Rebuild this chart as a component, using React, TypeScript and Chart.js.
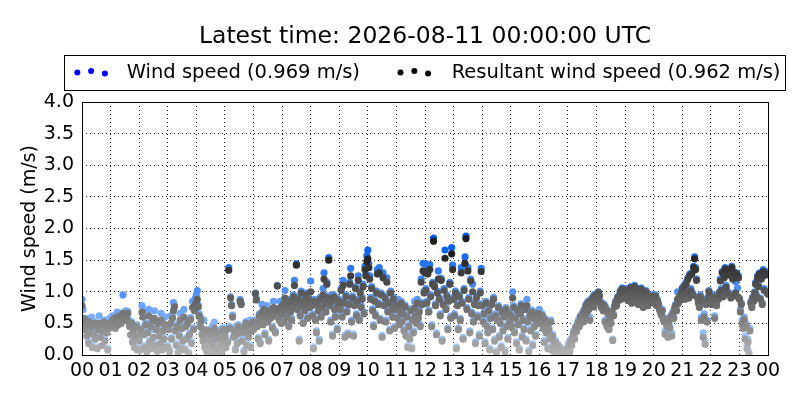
import React, { useEffect, useRef } from 'react';
import Chart, { ChartOptions, Plugin } from 'chart.js/auto';

const titleText = 'Latest time: 2026-08-11 00:00:00 UTC';
const latestWind = 0.969;
const latestResultant = 0.962;
const minutesPerSample = 2;
const hourTicks = [0, 1, 2, 3, 4, 5, 6, 7, 8, 9, 10, 11, 12, 13, 14, 15, 16, 17, 18, 19, 20, 21, 22, 23, 24];
const speedTicks = [0, 0.5, 1, 1.5, 2, 2.5, 3, 3.5, 4];

// one row per hour (00..23), 2-minute samples in m/s, last value is 24:00
const windSpeed = [
  0.88, 0.72, 0.53, 0.44, 0.58, 0.45, 0.51, 0.22, 0.55, 0.38, 0.60, 0.15, 0.35, 0.53, 0.40, 0.49, 0.13, 0.43, 0.62, 0.31, 0.48, 0.30, 0.41, 0.55, 0.25, 0.51, 0.50, 0.11, 0.45, 0.58,
  0.53, 0.48, 0.62, 0.51, 0.61, 0.45, 0.55, 0.68, 0.51, 0.59, 0.65, 0.53, 0.63, 0.95, 0.68, 0.58, 0.70, 0.61, 0.69, 0.55, 0.48, 0.45, 0.53, 0.23, 0.41, 0.28, 0.31, 0.48, 0.11, 0.33,
  0.25, 0.11, 0.43, 0.78, 0.70, 0.35, 0.15, 0.51, 0.08, 0.38, 0.72, 0.23, 0.48, 0.13, 0.58, 0.40, 0.70, 0.18, 0.43, 0.09, 0.53, 0.33, 0.30, 0.66, 0.11, 0.41, 0.28, 0.60, 0.15, 0.45,
  0.15, 0.43, 0.08, 0.62, 0.28, 0.61, 0.83, 0.79, 0.41, 0.18, 0.48, 0.06, 0.33, 0.66, 0.13, 0.45, 0.25, 0.72, 0.11, 0.48, 0.28, 0.53, 0.05, 0.35, 0.59, 0.21, 0.85, 0.43, 0.78, 0.90,
  0.95, 1.02, 0.79, 0.65, 0.48, 0.58, 0.35, 0.25, 0.55, 0.15, 0.33, 0.08, 0.28, 0.41, 0.11, 0.23, 0.05, 0.45, 0.18, 0.52, 0.07, 0.28, 0.13, 0.38, 0.03, 0.40, 0.21, 0.09, 0.43, 0.25,
  0.33, 0.15, 0.43, 0.23, 1.38, 0.45, 0.92, 0.80, 0.63, 0.31, 0.41, 0.11, 0.45, 0.21, 0.48, 0.38, 0.88, 0.82, 0.25, 0.45, 0.08, 0.38, 0.53, 0.18, 0.43, 0.31, 0.55, 0.15, 0.41, 0.55,
  0.43, 0.55, 0.98, 0.89, 0.48, 0.28, 0.65, 0.21, 0.58, 0.80, 0.51, 0.75, 0.35, 0.63, 0.78, 0.55, 0.25, 0.73, 0.61, 0.68, 0.45, 0.85, 0.65, 0.38, 0.73, 1.10, 0.63, 0.58, 0.85, 0.53,
  0.68, 0.83, 0.55, 1.02, 0.75, 0.63, 0.81, 0.48, 0.88, 0.71, 0.58, 0.85, 0.95, 1.18, 0.85, 1.44, 0.75, 0.91, 0.25, 0.65, 1.01, 0.81, 0.53, 0.95, 0.73, 0.98, 0.83, 0.61, 0.91, 0.78,
  1.17, 0.81, 0.65, 0.13, 0.88, 0.58, 0.38, 0.83, 0.73, 0.25, 0.91, 0.63, 0.78, 1.05, 1.30, 0.85, 0.71, 1.15, 0.93, 1.54, 0.81, 0.55, 0.95, 0.33, 0.95, 0.75, 0.63, 0.91, 0.43, 0.83,
  0.88, 0.75, 1.05, 0.63, 1.18, 0.85, 0.31, 0.95, 0.71, 0.35, 0.83, 1.15, 1.37, 0.55, 0.93, 0.33, 0.81, 1.08, 0.65, 0.88, 1.25, 0.58, 1.01, 0.78, 0.91, 1.12, 0.68, 1.40, 1.28, 1.57,
  1.66, 1.45, 1.25, 0.91, 1.08, 0.73, 0.48, 0.88, 0.65, 1.01, 1.35, 0.83, 1.38, 0.58, 0.98, 0.31, 1.30, 0.81, 0.93, 0.55, 1.22, 0.71, 0.85, 0.41, 1.01, 0.75, 0.63, 0.91, 0.45, 0.81,
  0.75, 0.61, 0.88, 0.51, 0.71, 0.85, 0.55, 0.68, 0.41, 0.79, 0.40, 0.63, 0.15, 0.48, 0.35, 0.73, 0.13, 0.58, 0.38, 0.85, 0.65, 0.53, 0.88, 0.61, 0.71, 0.48, 1.20, 0.83, 1.45, 1.01,
  1.45, 1.05, 0.85, 1.40, 0.71, 1.43, 0.95, 0.48, 1.15, 1.85, 1.11, 0.81, 0.35, 1.01, 1.33, 0.91, 0.65, 1.21, 0.25, 0.83, 1.05, 1.66, 0.75, 0.95, 0.43, 0.88, 1.15, 0.61, 1.70, 1.42,
  0.91, 0.65, 1.01, 0.13, 0.81, 0.43, 0.95, 0.58, 1.38, 0.85, 0.28, 1.05, 1.55, 1.88, 0.75, 1.38, 0.91, 0.38, 1.20, 0.68, 1.12, 0.55, 0.83, 0.21, 0.93, 0.63, 0.81, 0.33, 1.01, 1.37,
  0.81, 0.55, 0.68, 0.21, 0.85, 0.55, 0.38, 0.73, 0.11, 0.61, 0.83, 0.43, 0.91, 0.25, 0.65, 0.07, 0.58, 0.78, 0.31, 0.60, 0.15, 0.71, 0.41, 0.63, 0.08, 0.75, 0.48, 0.28, 0.68, 0.55,
  0.65, 0.48, 1.00, 0.78, 0.38, 0.61, 0.21, 0.73, 0.51, 0.11, 0.68, 0.81, 0.31, 0.58, 0.43, 0.75, 0.25, 0.88, 0.55, 0.08, 0.65, 0.41, 0.71, 0.18, 0.61, 0.48, 0.33, 0.68, 0.53, 0.61,
  0.72, 0.61, 0.53, 0.65, 0.45, 0.23, 0.58, 0.38, 0.51, 0.13, 0.43, 0.28, 0.55, 0.11, 0.33, 0.18, 0.07, 0.23, 0.02, 0.13, 0.17, 0.05, 0.09, 0.02, 0.11, 0.02, 0.01, 0.07, 0.02, 0.05,
  0.12, 0.20, 0.08, 0.25, 0.18, 0.30, 0.38, 0.28, 0.45, 0.40, 0.50, 0.55, 0.48, 0.62, 0.58, 0.66, 0.55, 0.72, 0.65, 0.80, 0.70, 0.85, 0.75, 0.60, 0.88, 0.82, 0.92, 0.78, 0.96, 0.90,
  0.92, 0.88, 1.00, 0.95, 0.85, 0.78, 0.82, 0.72, 0.80, 0.55, 0.75, 0.48, 0.68, 0.42, 0.60, 0.52, 0.70, 0.25, 0.65, 0.78, 0.85, 0.80, 0.92, 0.88, 0.95, 1.02, 0.90, 1.06, 0.98, 1.04,
  0.98, 0.92, 1.05, 0.88, 1.02, 0.95, 1.08, 0.85, 1.00, 0.92, 1.10, 0.96, 0.88, 1.05, 0.82, 1.00, 0.94, 1.06, 0.90, 0.78, 0.98, 0.86, 1.02, 0.92, 0.80, 0.95, 0.88, 0.92, 0.85, 0.95,
  0.92, 0.85, 0.95, 0.80, 0.88, 0.82, 0.75, 0.70, 0.66, 0.72, 0.60, 0.55, 0.38, 0.58, 0.48, 0.32, 0.55, 0.45, 0.62, 0.35, 0.68, 0.60, 0.75, 0.80, 0.72, 1.00, 0.85, 0.95, 0.90, 1.00,
  1.06, 0.95, 1.10, 0.90, 1.15, 1.00, 1.22, 0.92, 1.28, 1.05, 1.30, 0.98, 1.40, 1.55, 1.38, 1.20, 0.92, 0.85, 0.78, 0.95, 0.60, 0.88, 0.35, 0.65, 0.22, 0.82, 0.55, 0.92, 1.02, 0.85,
  0.90, 0.82, 0.95, 0.85, 0.62, 0.88, 0.80, 0.95, 0.90, 1.00, 1.20, 1.05, 1.32, 0.95, 1.25, 1.38, 1.10, 1.30, 1.00, 1.35, 1.28, 0.92, 1.40, 1.22, 1.32, 0.98, 1.16, 1.30, 1.06, 1.25,
  0.90, 0.72, 0.82, 0.55, 0.45, 0.60, 0.30, 0.50, 0.15, 0.25, 0.05, 0.42, 0.85, 0.78, 0.92, 0.88, 1.00, 1.15, 0.95, 1.25, 1.10, 1.30, 0.90, 1.22, 0.82, 1.35, 1.05, 1.28, 1.32, 1.00,
  latestWind,
];

const resultantSpeed = [
  0.78, 0.58, 0.50, 0.40, 0.55, 0.30, 0.48, 0.18, 0.52, 0.35, 0.45, 0.12, 0.32, 0.50, 0.25, 0.46, 0.10, 0.40, 0.50, 0.28, 0.45, 0.15, 0.38, 0.52, 0.22, 0.48, 0.35, 0.08, 0.42, 0.50,
  0.50, 0.45, 0.55, 0.48, 0.58, 0.42, 0.52, 0.60, 0.48, 0.56, 0.62, 0.50, 0.60, 0.66, 0.65, 0.55, 0.62, 0.58, 0.66, 0.52, 0.45, 0.32, 0.50, 0.20, 0.38, 0.12, 0.28, 0.45, 0.08, 0.30,
  0.22, 0.08, 0.40, 0.68, 0.60, 0.32, 0.12, 0.48, 0.05, 0.35, 0.62, 0.20, 0.45, 0.10, 0.55, 0.28, 0.58, 0.15, 0.40, 0.06, 0.50, 0.30, 0.18, 0.55, 0.08, 0.38, 0.25, 0.48, 0.12, 0.42,
  0.12, 0.40, 0.05, 0.50, 0.25, 0.58, 0.70, 0.76, 0.38, 0.15, 0.45, 0.03, 0.30, 0.55, 0.10, 0.42, 0.22, 0.60, 0.08, 0.45, 0.25, 0.50, 0.02, 0.32, 0.56, 0.18, 0.75, 0.40, 0.70, 0.80,
  0.80, 0.88, 0.76, 0.62, 0.45, 0.55, 0.32, 0.22, 0.40, 0.12, 0.30, 0.05, 0.25, 0.38, 0.08, 0.20, 0.02, 0.32, 0.15, 0.42, 0.04, 0.25, 0.10, 0.35, 0.00, 0.28, 0.18, 0.06, 0.40, 0.22,
  0.30, 0.12, 0.40, 0.20, 1.34, 0.42, 0.90, 0.78, 0.60, 0.28, 0.38, 0.08, 0.32, 0.18, 0.45, 0.35, 0.85, 0.80, 0.22, 0.42, 0.05, 0.35, 0.50, 0.15, 0.40, 0.28, 0.45, 0.12, 0.38, 0.52,
  0.40, 0.52, 0.97, 0.87, 0.45, 0.25, 0.62, 0.18, 0.55, 0.68, 0.48, 0.72, 0.32, 0.60, 0.66, 0.52, 0.22, 0.70, 0.58, 0.65, 0.42, 0.75, 0.62, 0.35, 0.70, 1.09, 0.60, 0.55, 0.75, 0.50,
  0.65, 0.80, 0.52, 0.90, 0.72, 0.60, 0.78, 0.45, 0.85, 0.68, 0.55, 0.75, 0.92, 1.10, 0.82, 1.42, 0.72, 0.88, 0.22, 0.62, 0.98, 0.78, 0.50, 0.85, 0.70, 0.95, 0.80, 0.58, 0.88, 0.75,
  1.00, 0.78, 0.62, 0.10, 0.85, 0.55, 0.35, 0.80, 0.70, 0.22, 0.88, 0.60, 0.75, 0.95, 1.20, 0.82, 0.68, 1.12, 0.90, 1.50, 0.78, 0.52, 0.85, 0.30, 0.92, 0.72, 0.60, 0.88, 0.40, 0.80,
  0.85, 0.72, 1.02, 0.60, 1.10, 0.82, 0.28, 0.92, 0.68, 0.32, 0.80, 1.12, 1.25, 0.52, 0.90, 0.30, 0.78, 1.05, 0.62, 0.85, 1.18, 0.55, 0.98, 0.75, 0.88, 1.08, 0.65, 1.35, 1.25, 1.48,
  1.52, 1.38, 1.20, 0.88, 1.05, 0.70, 0.45, 0.85, 0.62, 0.98, 1.28, 0.80, 1.30, 0.55, 0.95, 0.28, 1.22, 0.78, 0.90, 0.52, 1.15, 0.68, 0.82, 0.38, 0.98, 0.72, 0.60, 0.88, 0.42, 0.78,
  0.72, 0.58, 0.78, 0.48, 0.68, 0.82, 0.52, 0.65, 0.38, 0.76, 0.30, 0.60, 0.12, 0.45, 0.25, 0.70, 0.10, 0.55, 0.35, 0.74, 0.62, 0.50, 0.82, 0.58, 0.68, 0.45, 1.15, 0.80, 1.33, 0.98,
  1.30, 1.02, 0.82, 1.28, 0.68, 1.35, 0.92, 0.45, 1.12, 1.80, 1.08, 0.78, 0.32, 0.98, 1.20, 0.88, 0.62, 1.18, 0.22, 0.80, 1.02, 1.53, 0.72, 0.92, 0.40, 0.85, 1.12, 0.58, 1.60, 1.35,
  0.88, 0.62, 0.98, 0.10, 0.78, 0.40, 0.92, 0.55, 1.30, 0.82, 0.25, 1.02, 1.45, 1.84, 0.72, 1.33, 0.88, 0.35, 1.17, 0.65, 1.00, 0.52, 0.80, 0.18, 0.90, 0.60, 0.78, 0.30, 0.98, 1.32,
  0.78, 0.52, 0.65, 0.18, 0.82, 0.45, 0.35, 0.70, 0.08, 0.58, 0.80, 0.40, 0.88, 0.22, 0.62, 0.04, 0.55, 0.75, 0.28, 0.50, 0.12, 0.68, 0.38, 0.60, 0.05, 0.72, 0.45, 0.25, 0.65, 0.52,
  0.62, 0.45, 0.90, 0.75, 0.35, 0.58, 0.18, 0.70, 0.48, 0.08, 0.65, 0.78, 0.28, 0.55, 0.40, 0.72, 0.22, 0.78, 0.52, 0.05, 0.62, 0.38, 0.68, 0.15, 0.58, 0.45, 0.30, 0.65, 0.50, 0.58,
  0.65, 0.58, 0.50, 0.62, 0.42, 0.20, 0.55, 0.35, 0.48, 0.10, 0.40, 0.25, 0.52, 0.08, 0.30, 0.15, 0.04, 0.20, 0.00, 0.10, 0.14, 0.02, 0.06, 0.00, 0.08, 0.00, 0.00, 0.04, 0.00, 0.02,
  0.10, 0.16, 0.05, 0.22, 0.15, 0.27, 0.35, 0.25, 0.43, 0.37, 0.47, 0.52, 0.45, 0.60, 0.55, 0.64, 0.52, 0.70, 0.62, 0.78, 0.68, 0.83, 0.72, 0.55, 0.86, 0.80, 0.90, 0.76, 0.94, 0.88,
  0.90, 0.86, 0.99, 0.93, 0.82, 0.75, 0.80, 0.70, 0.78, 0.52, 0.72, 0.45, 0.65, 0.40, 0.57, 0.50, 0.68, 0.23, 0.62, 0.76, 0.83, 0.78, 0.90, 0.86, 0.93, 1.00, 0.88, 1.04, 0.96, 1.02,
  0.96, 0.90, 1.03, 0.86, 1.00, 0.93, 1.06, 0.82, 0.98, 0.90, 1.08, 0.94, 0.85, 1.03, 0.80, 0.98, 0.92, 1.04, 0.88, 0.75, 0.96, 0.84, 1.00, 0.90, 0.78, 0.93, 0.86, 0.90, 0.83, 0.93,
  0.90, 0.82, 0.93, 0.78, 0.85, 0.80, 0.72, 0.68, 0.63, 0.70, 0.57, 0.52, 0.33, 0.55, 0.45, 0.28, 0.52, 0.42, 0.60, 0.30, 0.65, 0.58, 0.72, 0.78, 0.70, 0.88, 0.82, 0.92, 0.88, 0.98,
  1.04, 0.92, 1.08, 0.88, 1.12, 0.98, 1.20, 0.90, 1.26, 1.02, 1.28, 0.95, 1.38, 1.52, 1.35, 1.18, 0.90, 0.82, 0.75, 0.92, 0.55, 0.85, 0.28, 0.60, 0.17, 0.80, 0.52, 0.90, 1.00, 0.82,
  0.88, 0.80, 0.92, 0.82, 0.58, 0.85, 0.78, 0.92, 0.88, 0.97, 1.17, 1.02, 1.30, 0.92, 1.22, 1.36, 1.07, 1.28, 0.97, 1.33, 1.26, 0.90, 1.38, 1.20, 1.30, 0.95, 0.98, 1.28, 0.92, 1.22,
  0.88, 0.68, 0.80, 0.50, 0.42, 0.56, 0.25, 0.46, 0.10, 0.20, 0.02, 0.38, 0.82, 0.75, 0.90, 0.85, 0.98, 1.12, 0.92, 1.22, 1.08, 1.28, 0.88, 1.20, 0.80, 1.32, 1.02, 1.26, 1.28, 0.98,
  latestResultant,
];

const FONT = '"DejaVu Sans", sans-serif';

// colour darkens as the speed grows
const greyFor = (v: number) => {
  const t = Math.min(Math.max(v / 1.6, 0), 1);
  const c = Math.round(180 - t * 150);
  return `rgb(${c},${c},${c})`;
};
const blueFor = (v: number) => {
  const t = Math.min(Math.max(v / 1.8, 0), 1);
  return `rgb(${Math.round(185 - 185 * t)},${Math.round(215 - 125 * t)},${Math.round(255 - 20 * t)})`;
};

const toPoints = (vals: number[]) => vals.map((v, i) => ({ x: (i * minutesPerSample) / 60, y: v }));

const legendDots = (ctx: CanvasRenderingContext2D, x: number, color: string) => {
  const offsets = [0.5, -1, 1.5];
  ctx.fillStyle = color;
  offsets.forEach((dy, i) => {
    ctx.beginPath();
    ctx.arc(x + i * 13.8, 72 + dy, 3, 0, Math.PI * 2);
    ctx.fill();
  });
};

const framePlugin: Plugin = {
  id: 'frame',
  afterDraw(chart) {
    const { ctx, chartArea: a } = chart;
    ctx.save();
    ctx.strokeStyle = '#000';
    ctx.lineWidth = 1;
    ctx.strokeRect(Math.round(a.left) + 0.5, Math.round(a.top) + 0.5, Math.round(a.right - a.left), Math.round(a.bottom - a.top));

    // title
    ctx.fillStyle = '#000';
    ctx.font = `23.5px ${FONT}`;
    ctx.textAlign = 'center';
    ctx.textBaseline = 'alphabetic';
    ctx.fillText(titleText, (a.left + a.right) / 2, 42.5);

    // legend box
    ctx.fillStyle = '#fff';
    ctx.fillRect(64.5, 55.5, 721, 35);
    ctx.strokeRect(64.5, 55.5, 721, 35);
    legendDots(ctx, 77.3, '#0000ff');
    legendDots(ctx, 400.5, '#000000');
    ctx.fillStyle = '#000';
    ctx.font = `19.5px ${FONT}`;
    ctx.textAlign = 'left';
    ctx.fillText(`Wind speed (${latestWind.toFixed(3)} m/s)`, 126.7, 78.3);
    ctx.fillText(`Resultant wind speed (${latestResultant.toFixed(3)} m/s)`, 451.7, 78.3);
    ctx.restore();
  },
};

const WindSpeedChart: React.FC = () => {
  const chartRef = useRef<HTMLCanvasElement | null>(null);
  const chartInstanceRef = useRef<Chart | null>(null);

  useEffect(() => {
    if (chartInstanceRef.current) {
      chartInstanceRef.current.destroy();
    }
    const ctx = chartRef.current?.getContext('2d');
    if (!ctx) return;

    const options: ChartOptions<'scatter'> = {
      animation: false,
      responsive: true,
      maintainAspectRatio: false,
      layout: { padding: { top: 102, right: 32, left: 0, bottom: 0 } },
      plugins: {
        legend: { display: false },
        title: { display: false },
        tooltip: { enabled: false },
      },
      elements: { point: { radius: 3.6, borderWidth: 0, hoverRadius: 3.6 } },
      scales: {
        x: {
          type: 'linear',
          min: 0,
          max: 24,
          z: 1,
          afterFit: (scale) => {
            scale.height = 45;
          },
          afterBuildTicks: (scale) => {
            scale.ticks = hourTicks.map((v) => ({ value: v }));
          },
          ticks: {
            autoSkip: false,
            maxRotation: 0,
            padding: 5,
            color: '#000',
            font: { family: FONT, size: 19 },
            callback: (v) => String(Number(v) % 24).padStart(2, '0'),
          },
          grid: { color: 'rgba(0,0,0,0.85)', lineWidth: 1, drawTicks: false },
          border: { display: false, dash: [1, 3] },
        },
        y: {
          min: 0,
          max: 4,
          z: 1,
          afterFit: (scale) => {
            scale.width = 82;
          },
          afterBuildTicks: (scale) => {
            scale.ticks = speedTicks.map((v) => ({ value: v }));
          },
          ticks: {
            padding: 8,
            color: '#000',
            font: { family: FONT, size: 19 },
            callback: (v) => Number(v).toFixed(1),
          },
          grid: { color: 'rgba(0,0,0,0.85)', lineWidth: 1, drawTicks: false },
          border: { display: false, dash: [1, 3] },
          title: {
            display: true,
            text: 'Wind speed (m/s)',
            color: '#000',
            font: { family: FONT, size: 19 },
            padding: { top: 19, bottom: 0 },
          },
        },
      },
    };

    chartInstanceRef.current = new Chart(ctx, {
      type: 'scatter',
      data: {
        datasets: [
          {
            label: 'Resultant wind speed',
            data: toPoints(resultantSpeed),
            backgroundColor: (c: any) => greyFor(c.raw ? c.raw.y : 0),
          },
          {
            label: 'Wind speed',
            data: toPoints(windSpeed),
            backgroundColor: (c: any) => blueFor(c.raw ? c.raw.y : 0),
          },
        ],
      },
      options,
      plugins: [framePlugin],
    });

    return () => {
      if (chartInstanceRef.current) {
        chartInstanceRef.current.destroy();
        chartInstanceRef.current = null;
      }
    };
  }, []);

  return (
    <div style={{ position: 'fixed', left: 0, top: 0, width: '800px', height: '400px', background: '#fff' }}>
      <canvas ref={chartRef} style={{ width: '100%', height: '100%' }}></canvas>
    </div>
  );
};

export default function App() {
  return <WindSpeedChart />;
}
